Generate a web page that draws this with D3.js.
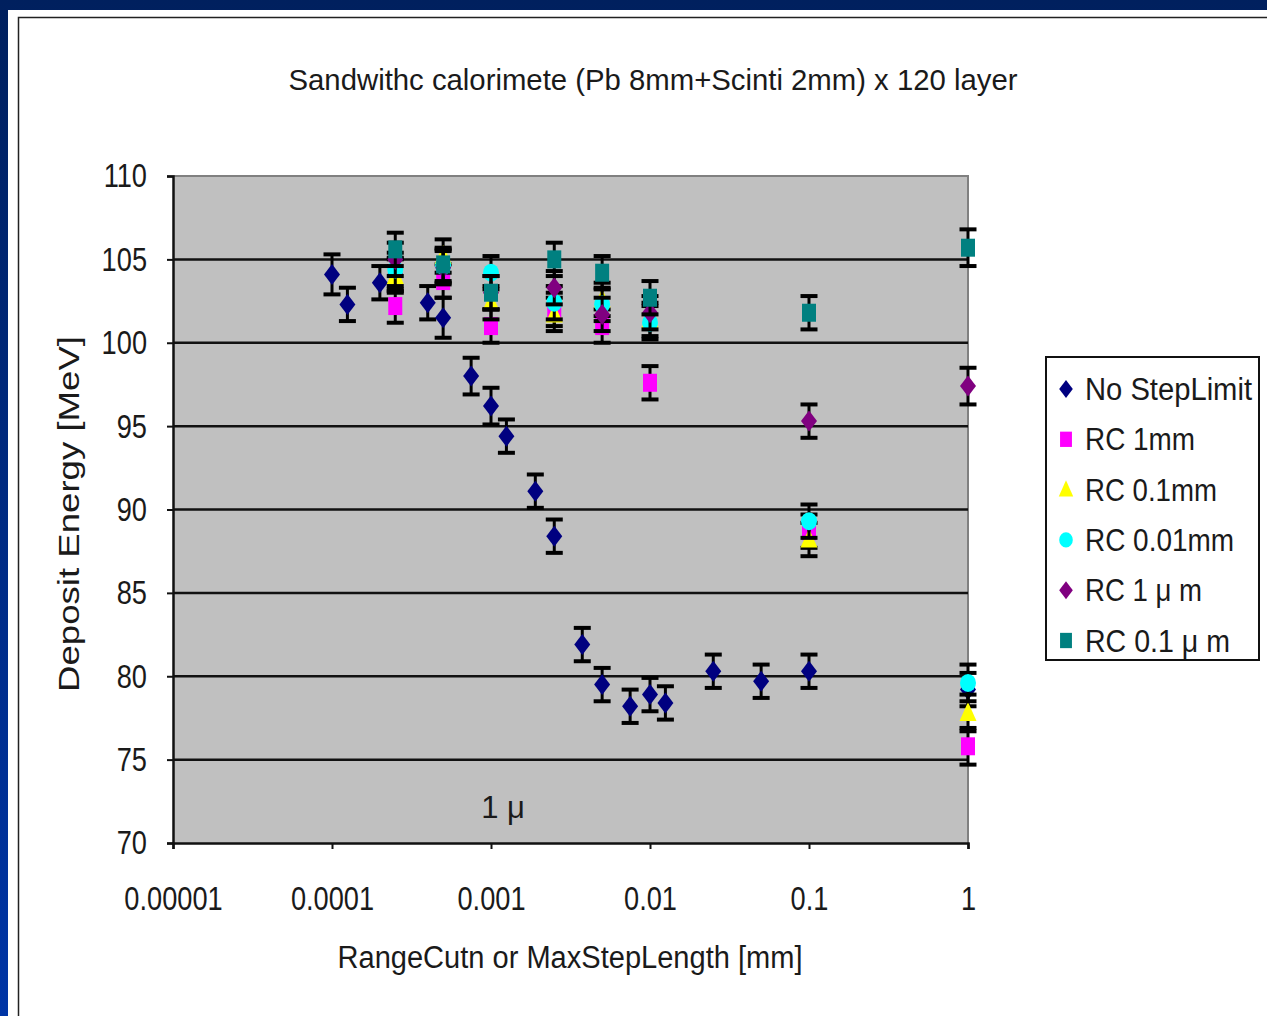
<!DOCTYPE html>
<html lang="en">
<head>
<meta charset="UTF-8">
<title>Sandwich calorimeter deposit energy</title>
<script src="https://d3js.org/d3.v7.min.js"></script>
<style>
  body { margin: 0; }
  svg { display: block; }
  text { font-family: "Liberation Sans", Arial, sans-serif; fill: #1a1a1a; }
</style>
</head>
<body>
<svg width="1267" height="1016"></svg>
<script>
// ---- data ----
const xTickValues = [1e-5, 1e-4, 1e-3, 1e-2, 0.1, 1];
const xTickLabels = ["0.00001", "0.0001", "0.001", "0.01", "0.1", "1"];
const yTickValues = [70, 75, 80, 85, 90, 95, 100, 105, 110];

// No StepLimit: max step length scan
const xNoLimit = [1e-4, 1.25e-4, 2e-4, 2.5e-4, 4e-4, 5e-4, 7.5e-4, 1e-3, 1.25e-3, 1.9e-3,
                  2.5e-3, 3.75e-3, 5e-3, 7.5e-3, 1e-2, 1.25e-2, 2.5e-2, 5e-2, 0.1, 1];
const yNoLimit = [104.1, 102.3, 103.6, 104.1, 102.4, 101.5, 98.0, 96.2, 94.4, 91.1,
                  88.4, 81.9, 79.5, 78.2, 78.9, 78.4, 80.3, 79.7, 80.3, 79.2];
const eNoLimit = [1.2, 1.0, 1.0, 1.0, 1.0, 1.2, 1.1, 1.1, 1.0, 1.0,
                  1.0, 1.0, 1.0, 1.0, 1.0, 1.0, 1.0, 1.0, 1.0, 1.0];

// range-cut series share the same step lengths
const xRC = [2.5e-4, 5e-4, 1e-3, 2.5e-3, 5e-3, 1e-2, 0.1, 1];
const yRC1mm   = [102.2, 103.7, 101.0, 102.0, 101.0, 97.6, 88.7, 75.8];
const yRC01mm  = [104.0, 105.2, 102.4, 101.7, 102.6, 101.4, 88.2, 77.8];
const yRC001mm = [104.4, 104.6, 104.2, 102.4, 102.3, 101.2, 89.3, 79.6];
const yRC1um   = [105.0, 104.5, 103.0, 103.3, 101.7, 101.8, 95.3, 97.4];
const yRC01um  = [105.6, 104.7, 103.0, 105.0, 104.2, 102.7, 101.8, 105.7];
const eRC      = [1.0, 1.0, 1.0, 1.0, 1.0, 1.0, 1.0, 1.1];

const seriesNames = ["No StepLimit", "RC 1mm", "RC 0.1mm", "RC 0.01mm", "RC 1 \u03bc m", "RC 0.1 \u03bc m"];
const seriesColors = ["#000080", "#ff00ff", "#ffff00", "#00ffff", "#800080", "#008080"];
const seriesShapes = ["diamond", "square", "triangle", "circle", "diamond", "square"];

const series = [
  { x: xNoLimit, y: yNoLimit, e: eNoLimit },
  { x: xRC, y: yRC1mm, e: eRC },
  { x: xRC, y: yRC01mm, e: eRC },
  { x: xRC, y: yRC001mm, e: eRC },
  { x: xRC, y: yRC1um, e: eRC },
  { x: xRC, y: yRC01um, e: eRC }
];

// ---- layout ----
const svg = d3.select("svg");
const plot = { left: 173, right: 968, top: 176, bottom: 843 };
const legendWidths = [167, 110, 132, 149, 117, 145]; // pixel widths of legend labels

// fit a text element to a given pixel width (original font is a narrow gothic)
function fit(sel, width) {
  sel.each(function(d, i) {
    const w = typeof width === "function" ? width(d, i) : width || this.getComputedTextLength() * 0.8;
    d3.select(this).attr("textLength", w).attr("lengthAdjust", "spacingAndGlyphs");
  });
}

// frame background
const defs = svg.append("defs");
const grad = defs.append("linearGradient").attr("id", "frame").attr("x1", 0).attr("y1", 0).attr("x2", 0).attr("y2", 1);
grad.append("stop").attr("offset", "0%").attr("stop-color", "#00205e");
grad.append("stop").attr("offset", "100%").attr("stop-color", "#0035a6");
svg.append("rect").attr("width", 1267).attr("height", 1016).attr("fill", "url(#frame)");
svg.append("rect").attr("x", 8).attr("y", 10).attr("width", 1259).attr("height", 1006).attr("fill", "#fff");
svg.append("path").attr("d", "M18.5,1016 V17.5 H1267").attr("fill", "none").attr("stroke", "#222").attr("stroke-width", 1.5);

// scales
const x = d3.scaleLog().domain([1e-5, 1]).range([plot.left, plot.right]);
const y = d3.scaleLinear().domain([70, 110]).range([plot.bottom, plot.top]);

// plot area
svg.append("rect")
  .attr("x", plot.left).attr("y", plot.top)
  .attr("width", plot.right - plot.left).attr("height", plot.bottom - plot.top)
  .attr("fill", "#c0c0c0");
svg.append("path")
  .attr("d", `M${plot.left},${plot.top} H${plot.right} V${plot.bottom}`)
  .attr("fill", "none").attr("stroke", "#808080").attr("stroke-width", 2);

// gridlines
svg.append("g").selectAll("line")
  .data(yTickValues.filter(d => d > 70 && d < 110))
  .join("line")
  .attr("x1", plot.left).attr("x2", plot.right)
  .attr("y1", d => y(d)).attr("y2", d => y(d))
  .attr("stroke", "#111").attr("stroke-width", 2.5);

// axes
const yAxis = svg.append("g")
  .attr("transform", `translate(${plot.left},0)`)
  .call(d3.axisLeft(y).tickValues(yTickValues).tickSize(6).tickPadding(20).tickFormat(d3.format("d")));
const xAxis = svg.append("g")
  .attr("transform", `translate(0,${plot.bottom})`)
  .call(d3.axisBottom(x).tickValues(xTickValues).tickSize(6).tickPadding(37)
    .tickFormat((d, i) => xTickLabels[i]));
[yAxis, xAxis].forEach(ax => {
  ax.select(".domain").attr("stroke", "#111").attr("stroke-width", 2.5);
  ax.selectAll(".tick line").attr("stroke", "#111").attr("stroke-width", 2);
  ax.selectAll(".tick text").attr("font-size", 34).attr("fill", "#2a2a2a")
    .style("font-family", "'Liberation Sans', Arial, sans-serif").call(fit);
});

// markers
function markerPath(shape, s) {
  if (shape === "diamond") return `M0,${-10.5 * s} L${8 * s},0 L0,${10.5 * s} L${-8 * s},0 Z`;
  if (shape === "square") return `M${-7 * s},${-9 * s} H${7 * s} V${9 * s} H${-7 * s} Z`;
  if (shape === "triangle") return `M0,${-11 * s} L${8.5 * s},${8 * s} L${-8.5 * s},${8 * s} Z`;
  // circle (slightly tall, like the original)
  const rx = 8 * s, ry = 9 * s;
  return `M${-rx},0 A${rx},${ry} 0 1,0 ${rx},0 A${rx},${ry} 0 1,0 ${-rx},0 Z`;
}

series.forEach((s, i) => {
  const pts = s.x.map((xv, j) => ({ x: xv, y: s.y[j], e: s.e[j] }));
  const g = svg.append("g").attr("class", "series-" + i);

  const bars = g.selectAll(".err").data(pts).join("g").attr("class", "err");
  bars.append("line")
    .attr("x1", d => x(d.x)).attr("x2", d => x(d.x))
    .attr("y1", d => y(d.y + d.e)).attr("y2", d => y(d.y - d.e))
    .attr("stroke", "#000").attr("stroke-width", 3);
  bars.append("line")
    .attr("x1", d => x(d.x) - 8.5).attr("x2", d => x(d.x) + 8.5)
    .attr("y1", d => y(d.y + d.e)).attr("y2", d => y(d.y + d.e))
    .attr("stroke", "#000").attr("stroke-width", 4);
  bars.append("line")
    .attr("x1", d => x(d.x) - 8.5).attr("x2", d => x(d.x) + 8.5)
    .attr("y1", d => y(d.y - d.e)).attr("y2", d => y(d.y - d.e))
    .attr("stroke", "#000").attr("stroke-width", 4);

  g.selectAll(".pt").data(pts).join("path")
    .attr("class", "pt")
    .attr("transform", d => `translate(${x(d.x)},${y(d.y)})`)
    .attr("d", markerPath(seriesShapes[i], 1))
    .attr("fill", seriesColors[i]);
});

// titles
svg.append("text").attr("x", 653).attr("y", 90).attr("text-anchor", "middle")
  .attr("font-size", 30).attr("fill", "#2a2a2a")
  .text("Sandwithc calorimete (Pb 8mm+Scinti 2mm) x 120 layer").call(fit, 729);
svg.append("text").attr("x", 570).attr("y", 968).attr("text-anchor", "middle")
  .attr("font-size", 31).attr("fill", "#2a2a2a")
  .text("RangeCutn or MaxStepLength [mm]").call(fit, 465);
svg.append("text").attr("transform", "translate(79,514) rotate(-90)").attr("text-anchor", "middle")
  .attr("font-size", 30).attr("fill", "#2a2a2a")
  .text("Deposit Energy [MeV]").call(fit, 356);
// "1 μ" marker note inside the plot
svg.append("text").attr("x", 503).attr("y", 818).attr("text-anchor", "middle")
  .attr("font-size", 31).attr("fill", "#2a2a2a")
  .text("1 \u03bc");

// legend
const legend = svg.append("g");
legend.append("rect").attr("x", 1046).attr("y", 357).attr("width", 213).attr("height", 303)
  .attr("fill", "#fff").attr("stroke", "#111").attr("stroke-width", 2);
const items = legend.selectAll(".item").data(seriesNames).join("g")
  .attr("class", "item")
  .attr("transform", (d, i) => `translate(1066,${389 + i * 50.3})`);
items.append("path")
  .attr("d", (d, i) => markerPath(seriesShapes[i], 0.85))
  .attr("fill", (d, i) => seriesColors[i]);
items.append("text").attr("x", 19).attr("y", 11)
  .attr("font-size", 31).attr("fill", "#2a2a2a")
  .text(d => d).call(fit, (d, i) => legendWidths[i]);
</script>
</body>
</html>
